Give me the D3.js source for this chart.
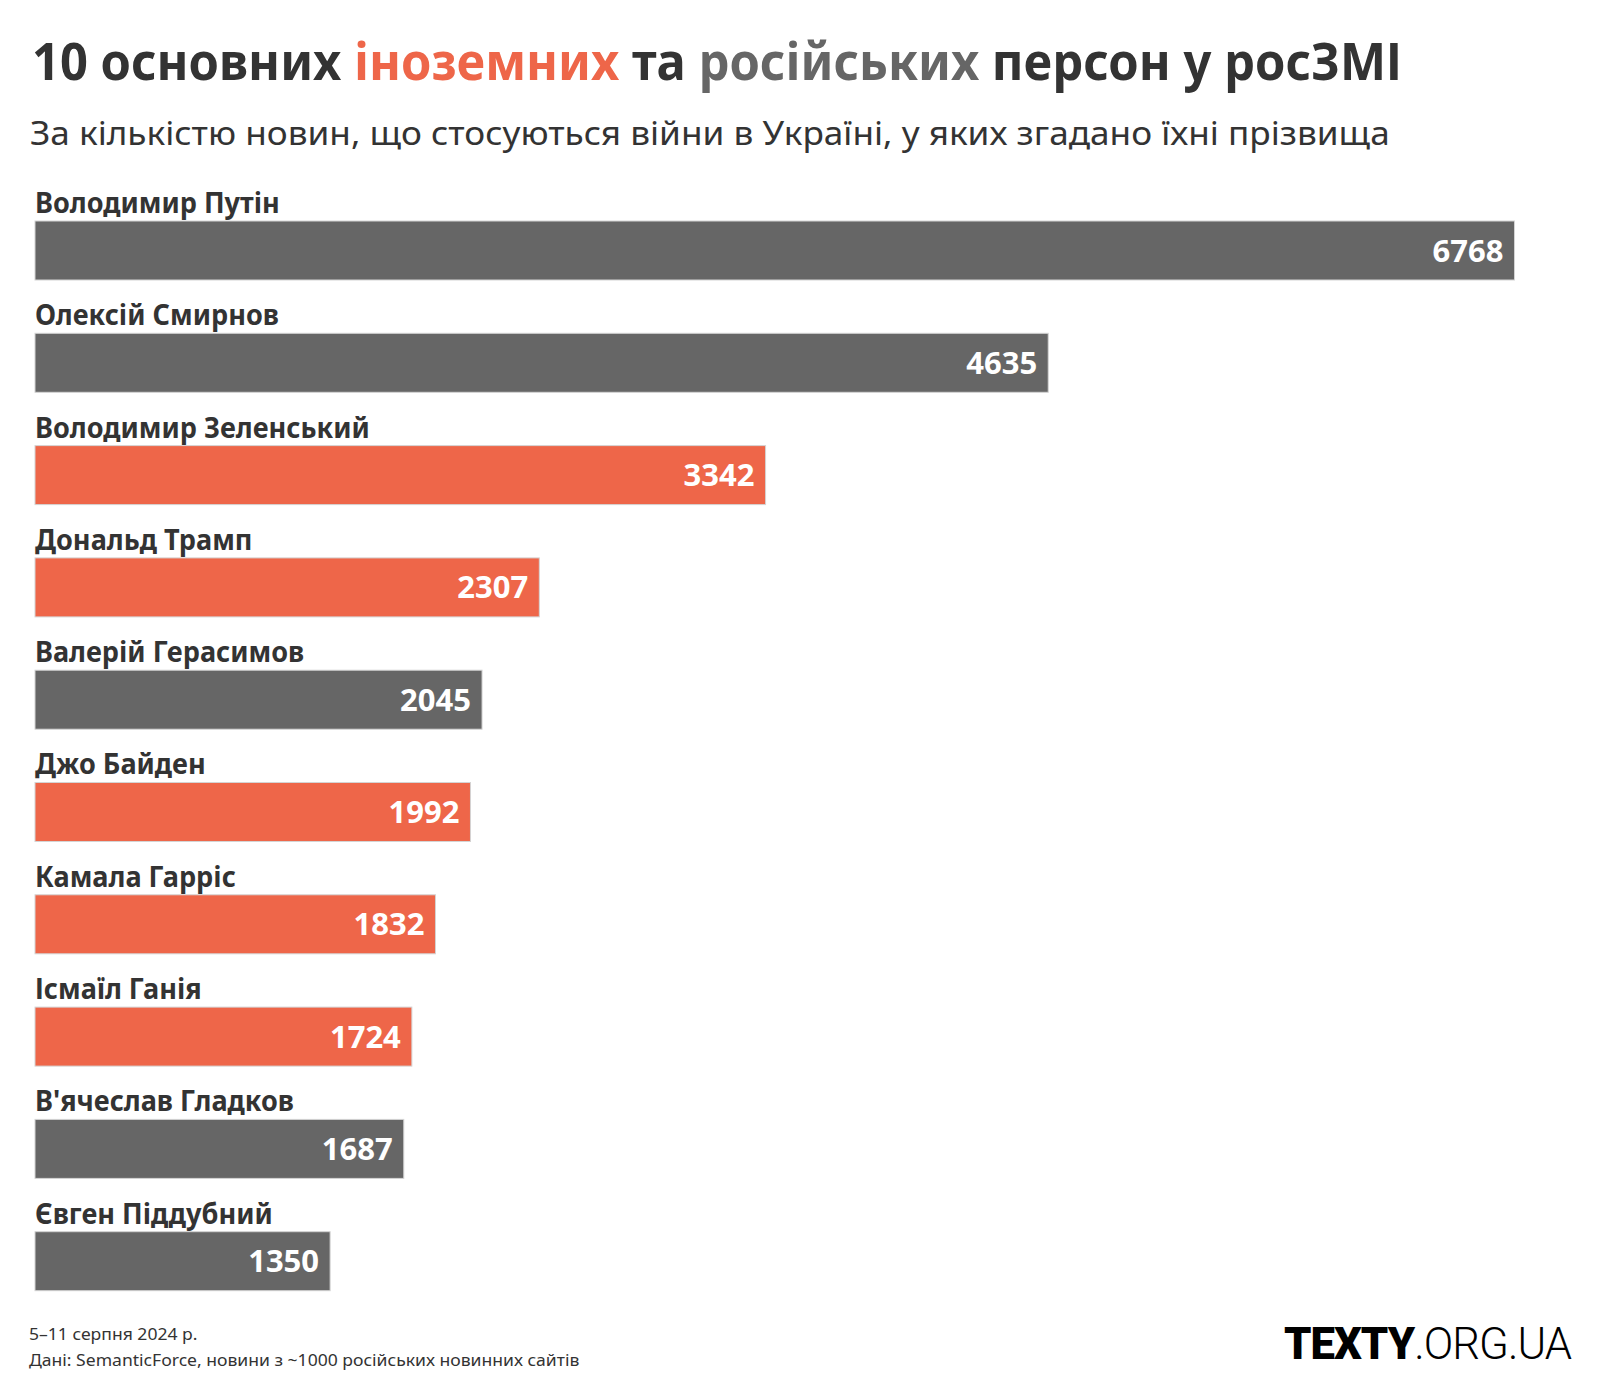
<!DOCTYPE html>
<html>
<head>
<meta charset="utf-8">
<script src="https://cdn.jsdelivr.net/npm/d3@7"></script>
<style>
  html, body { margin: 0; padding: 0; background: #fff; }
  svg { display: block; }
  text { font-family: "Noto Sans", "Open Sans", sans-serif; }
</style>
</head>
<body>
<svg id="chart" width="1600" height="1400"></svg>
<script>
// ---------- data ----------
const names = [
  "Володимир Путін",
  "Олексій Смирнов",
  "Володимир Зеленський",
  "Дональд Трамп",
  "Валерій Герасимов",
  "Джо Байден",
  "Камала Гарріс",
  "Ісмаїл Ганія",
  "В'ячеслав Гладков",
  "Євген Піддубний"
];
const values = [6768, 4635, 3342, 2307, 2045, 1992, 1832, 1724, 1687, 1350];
const groups = ["ru", "ru", "foreign", "foreign", "ru", "foreign", "foreign", "foreign", "ru", "ru"];

const titleParts = [
  { t: "10 основних ", g: "plain" },
  { t: "іноземних", g: "foreign" },
  { t: " та ", g: "plain" },
  { t: "російських", g: "ru" },
  { t: " персон у росЗМІ", g: "plain" }
];
const subtitle = "За кількістю новин, що стосуються війни в Україні, у яких згадано їхні прізвища";
const footerLines = ["5–11 серпня 2024 р.", "Дані: SemanticForce, новини з ~1000 російських новинних сайтів"];

// ---------- setup ----------
const colors = { foreign: "#ee6649", ru: "#666666", plain: "#333333" };
const svg = d3.select("#chart");
const data = names.map((n, i) => ({ name: n, value: values[i], group: groups[i] }));

const x = d3.scaleLinear().domain([0, 6768]).range([35, 1514.5]);
const y = d3.scaleBand().domain(names).range([221, 1290.7]).paddingInner(0.4746).paddingOuter(0).align(0);

function measure(str, size, weight) {
  const t = svg.append("text").attr("font-size", size).attr("font-weight", weight).text(str);
  const w = t.node().getComputedTextLength();
  t.remove();
  return w;
}

const titleR = 1370 / measure(titleParts.map(d => d.t).join(""), 52, 700);
const subR = 1360 / measure(subtitle, 33, 400);
const labelR = 245 / measure("Володимир Путін", 28, 700);
const valueR = 71 / measure("3342", 31, 700);
const footR = 551 / measure(footerLines[1], 17, 400);

// ---------- title ----------
const tg = svg.append("g").attr("transform", `translate(32,80) scale(${titleR},1)`);
const tt = tg.append("text").attr("font-size", 52).attr("font-weight", 700).attr("xml:space", "preserve");
tt.selectAll("tspan").data(titleParts).join("tspan")
  .attr("fill", d => colors[d.g])
  .style("white-space", "pre")
  .text(d => d.t);

svg.append("g").attr("transform", `translate(30,145) scale(${subR},1)`)
  .append("text").attr("font-size", 33).attr("font-weight", 400).attr("fill", "#333")
  .text(subtitle);

// ---------- bars ----------
const rows = svg.append("g").selectAll("g.row").data(data).join("g").attr("class", "row");

rows.append("rect")
  .attr("x", x(0))
  .attr("y", d => y(d.name))
  .attr("width", d => x(d.value) - x(0))
  .attr("height", y.bandwidth())
  .attr("fill", d => colors[d.group])
  .attr("stroke", "#d4d4d4")
  .attr("stroke-width", 1);

rows.append("g")
  .attr("transform", d => `translate(35,${y(d.name) - 8}) scale(${labelR},1)`)
  .append("text")
  .attr("font-size", 28).attr("font-weight", 700).attr("fill", "#333")
  .text(d => d.name);

rows.append("g")
  .attr("transform", d => `translate(${x(d.value) - 11},${y(d.name) + y.bandwidth() / 2 + 11}) scale(${valueR},1)`)
  .append("text")
  .attr("text-anchor", "end")
  .attr("font-size", 31).attr("font-weight", 700).attr("fill", "#fff")
  .text(d => d3.format("d")(d.value));

// ---------- footer ----------
footerLines.forEach((line, i) => {
  svg.append("g").attr("transform", `translate(29,${1340 + i * 26}) scale(${footR},1)`)
    .append("text").attr("font-size", 17).attr("fill", "#333").text(line);
});

// ---------- logo ----------
const logoG = svg.append("g");
const logo = logoG.append("text")
  .attr("x", 0).attr("y", 0)
  .attr("text-anchor", "end")
  .attr("font-size", 45)
  .attr("letter-spacing", -1)
  .style("font-family", "Roboto, 'Liberation Sans', sans-serif")
  .attr("fill", "#000");
logo.append("tspan").attr("font-weight", 900).text("TEXTY");
logo.append("tspan").attr("font-weight", 300).text(".ORG.UA");
const logoW = logo.node().getBBox().width;
const logoR = 288 / logoW;
logoG.attr("transform", `translate(1571,1359) scale(${logoR},1)`);
</script>
</body>
</html>
